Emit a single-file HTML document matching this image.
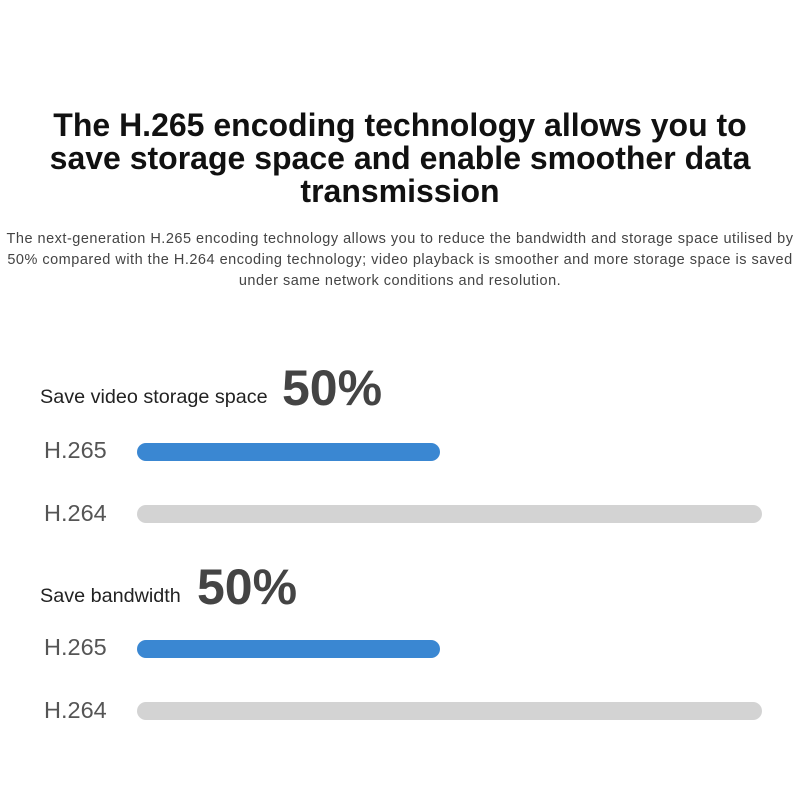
<!DOCTYPE html>
<html><head><style>
body{margin:0;width:800px;height:800px;background:#fff;font-family:"Liberation Sans","DejaVu Sans",sans-serif;position:relative;overflow:hidden}
.a{position:absolute;white-space:nowrap}
h1{position:absolute;top:109px;left:0;width:800px;margin:0;text-align:center;font-size:32px;line-height:33px;font-weight:bold;color:#111}
.sub{position:absolute;top:229px;left:0;width:800px;text-align:center;font-size:14.5px;letter-spacing:0.5px;line-height:21px;color:#444}
.lab{font-size:19.8px;color:#222}
.pct{font-size:50px;font-weight:bold;color:#444}
.h{font-size:23.5px;color:#555;left:44px}
.bar{position:absolute;left:137px;height:18px;border-radius:9px}
.b{background:#3a87d2;width:303px}
.g{background:#d3d3d3;width:625px}
</style></head><body>
<h1>The H.265 encoding technology allows you to<br>save storage space and enable smoother data<br>transmission</h1>
<div class="sub">The next-generation H.265 encoding technology allows you to reduce the bandwidth and storage space utilised by<br>50% compared with the H.264 encoding technology; video playback is smoother and more storage space is saved<br>under same network conditions and resolution.</div>
<div class="a lab" style="left:40px;top:386px">Save video storage space</div>
<div class="a pct" style="left:282px;top:359px">50%</div>
<div class="a h" style="top:437px">H.265</div>
<div class="bar b" style="top:443px"></div>
<div class="a h" style="top:500px">H.264</div>
<div class="bar g" style="top:505px"></div>
<div class="a lab" style="left:40px;top:585px">Save bandwidth</div>
<div class="a pct" style="left:197px;top:558px">50%</div>
<div class="a h" style="top:634px">H.265</div>
<div class="bar b" style="top:640px"></div>
<div class="a h" style="top:697px">H.264</div>
<div class="bar g" style="top:702px"></div>
</body></html>
